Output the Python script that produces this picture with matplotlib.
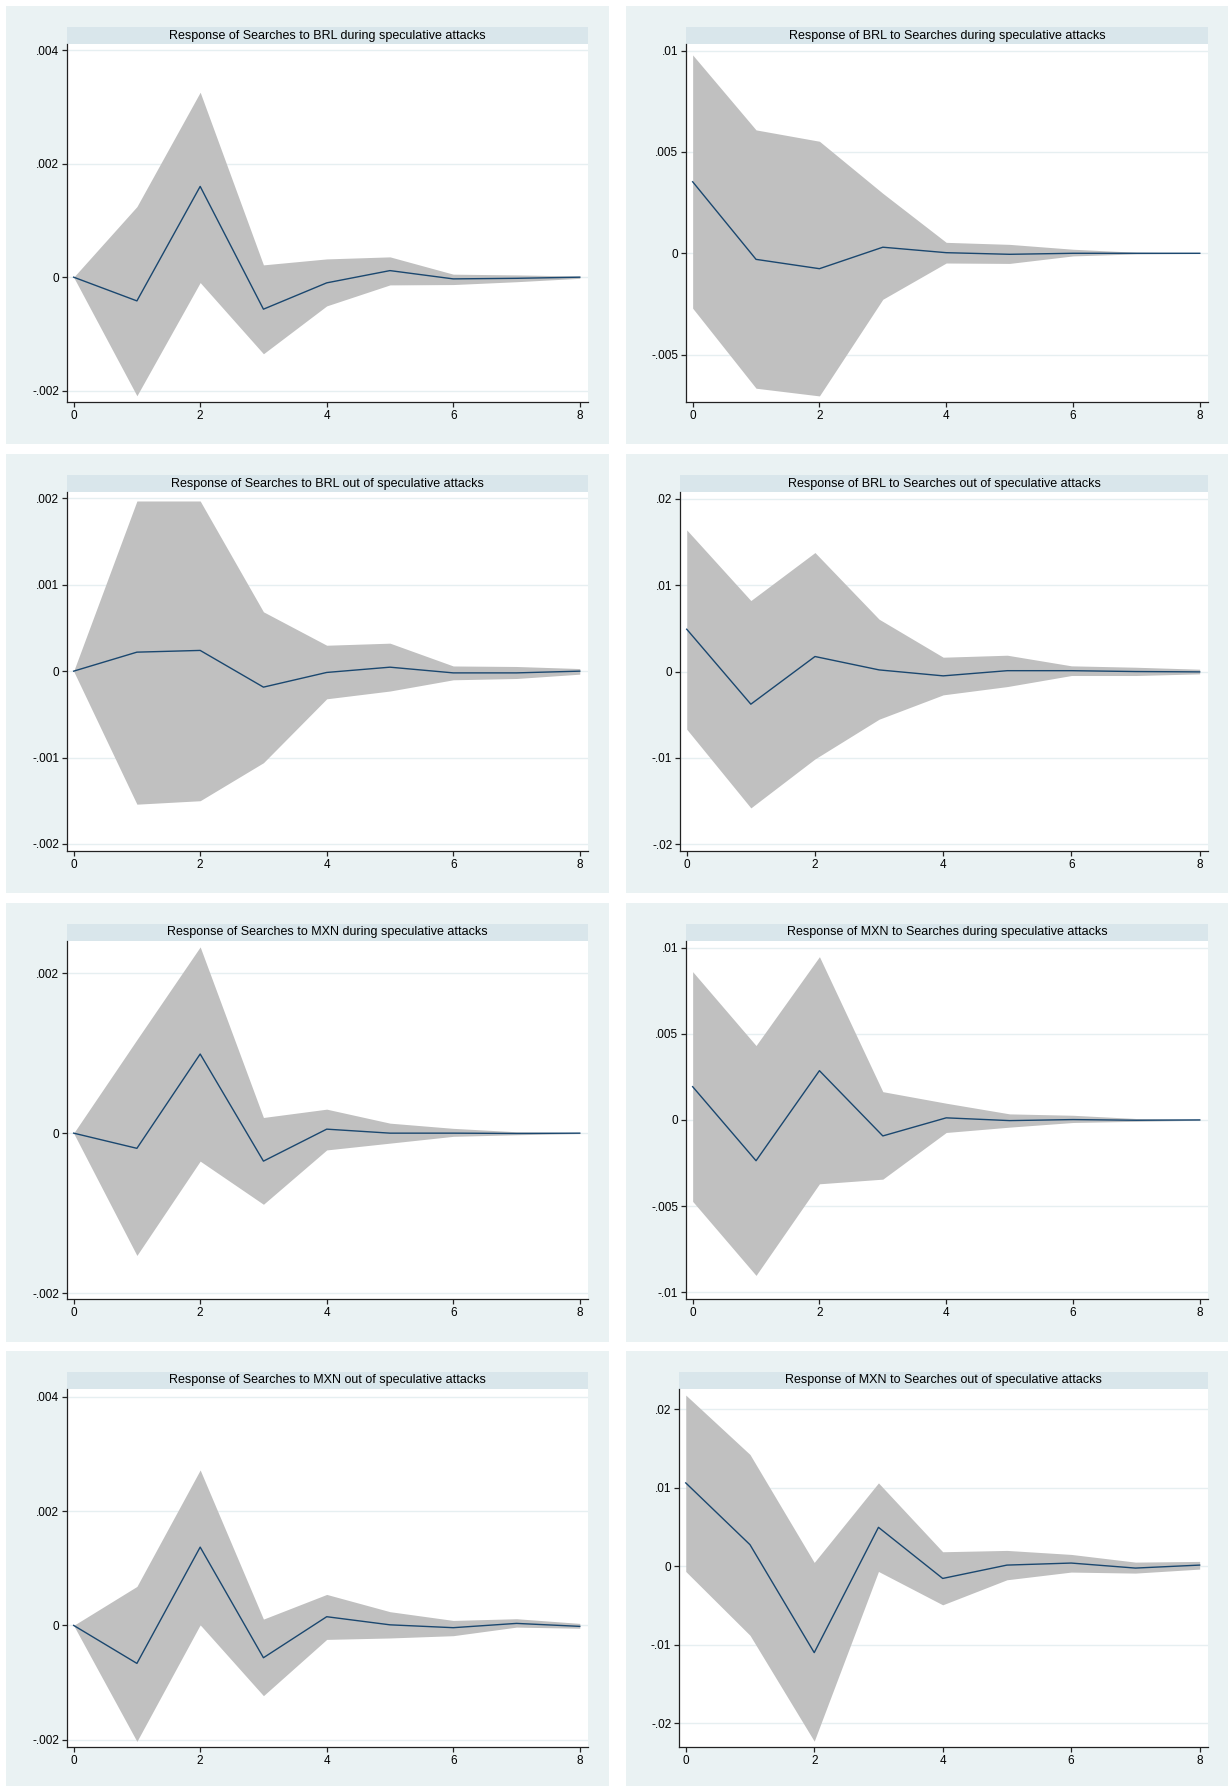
"""
Impulse responses, Searches <-> BRL / MXN, in and out of speculative attacks.
Eight panels in a 4x2 grid, Stata s2color look: shaded CI band, navy IRF line.
"""

import matplotlib

matplotlib.use("Agg")
import matplotlib.pyplot as plt
from matplotlib.patches import Rectangle
from matplotlib.ticker import FuncFormatter

plt.rcParams.update({"font.family": ["Liberation Sans", "DejaVu Sans"]})

W, H = 1228, 1786
BG = "#eaf2f3"
STRIP = "#d9e6eb"
GRIDC = "#e6eff1"
BAND = "#c0c0c0"
NAVY = "#1a476f"

steps = [0, 1, 2, 3, 4, 5, 6, 7, 8]

# Searches -> BRL, during attacks
sb_in_irf = [0, -0.000418, 0.0016, -0.000564, -0.0001, 0.000116, -0.00003, -0.00002, 0]
sb_in_lo = [0, -0.00209, -0.000095, -0.00135, -0.000506, -0.000136, -0.00013, -0.00008, -0.00002]
sb_in_hi = [0, 0.001244, 0.00326, 0.000217, 0.000322, 0.000358, 0.000053, 0.00004, 0.00002]

# BRL -> Searches, during attacks
bs_in_irf = [0.00353, -0.0003, -0.00076, 0.0003, 0.00003, -0.00005, 0, 0, 0]
bs_in_lo = [-0.00271, -0.00666, -0.00704, -0.00227, -0.00048, -0.0005, -0.00013, -0.00003, -0.00001]
bs_in_hi = [0.00979, 0.00609, 0.00553, 0.00296, 0.00054, 0.00044, 0.0002, 0.00005, 0.00002]

# Searches -> BRL, out of attacks
sb_out_irf = [0, 0.00022, 0.00024, -0.000185, -0.000015, 0.000046, -0.00002, -0.00002, 0]
sb_out_lo = [0, -0.00154, -0.0015, -0.00106, -0.00032, -0.00023, -0.0001, -0.000085, -0.000035]
sb_out_hi = [0, 0.00197, 0.00197, 0.000687, 0.0003, 0.000324, 0.00006, 0.000054, 0.00003]

# BRL -> Searches, out of attacks
bs_out_irf = [0.0049, -0.00378, 0.00174, 0.00019, -0.0005, 0.0001, 0.0001, 0, -0.00004]
bs_out_lo = [-0.00668, -0.01579, -0.01012, -0.00552, -0.0027, -0.00174, -0.00046, -0.00046, -0.00027]
bs_out_hi = [0.0164, 0.00822, 0.01378, 0.00606, 0.00166, 0.00189, 0.00066, 0.0005, 0.00027]

# Searches -> MXN, during attacks
sm_in_irf = [0, -0.00019, 0.00099, -0.00035, 0.00005, 0, 0, -0.000004, 0]
sm_in_lo = [0, -0.00153, -0.00035, -0.00089, -0.00021, -0.000125, -0.00004, -0.00002, -0.000005]
sm_in_hi = [0, 0.00117, 0.00233, 0.000196, 0.0003, 0.000125, 0.00006, 0.000017, 0.000005]

# MXN -> Searches, during attacks
ms_in_irf = [0.00193, -0.00237, 0.00286, -0.00093, 0.00012, -0.00004, 0.00002, -0.00002, 0]
ms_in_lo = [-0.00473, -0.00903, -0.00371, -0.00344, -0.00073, -0.00042, -0.00015, -0.00008, -0.00002]
ms_in_hi = [0.00861, 0.00432, 0.00948, 0.00164, 0.00097, 0.00035, 0.00027, 0.00008, 0.00002]

# Searches -> MXN, out of attacks
sm_out_irf = [0, -0.000665, 0.00137, -0.000566, 0.000152, 0.00001, -0.00004, 0.000035, -0.000017]
sm_out_lo = [0, -0.00203, 0.00001, -0.00123, -0.000245, -0.00022, -0.00018, -0.00003, -0.00005]
sm_out_hi = [0, 0.000682, 0.00272, 0.00011, 0.000542, 0.00024, 0.000087, 0.000117, 0.000035]

# MXN -> Searches, out of attacks
ms_out_irf = [0.01064, 0.00277, -0.01098, 0.00498, -0.00153, 0.00017, 0.00043, -0.00021, 0.00017]
ms_out_lo = [-0.00064, -0.00877, -0.02226, -0.00064, -0.00489, -0.0017, -0.00072, -0.00085, -0.00034]
ms_out_hi = [0.02183, 0.01426, 0.00051, 0.01064, 0.00187, 0.00204, 0.00153, 0.00055, 0.00064]

titles = [
    "Response of Searches to BRL during speculative attacks",
    "Response of BRL to Searches during speculative attacks",
    "Response of Searches to BRL out of speculative attacks",
    "Response of BRL to Searches out of speculative attacks",
    "Response of Searches to MXN during speculative attacks",
    "Response of MXN to Searches during speculative attacks",
    "Response of Searches to MXN out of speculative attacks",
    "Response of MXN to Searches out of speculative attacks",
]
series = [
    (sb_in_irf, sb_in_lo, sb_in_hi), (bs_in_irf, bs_in_lo, bs_in_hi),
    (sb_out_irf, sb_out_lo, sb_out_hi), (bs_out_irf, bs_out_lo, bs_out_hi),
    (sm_in_irf, sm_in_lo, sm_in_hi), (ms_in_irf, ms_in_lo, ms_in_hi),
    (sm_out_irf, sm_out_lo, sm_out_hi), (ms_out_irf, ms_out_lo, ms_out_hi),
]
yticks = [
    [-0.002, 0, 0.002, 0.004], [-0.005, 0, 0.005, 0.01],
    [-0.002, -0.001, 0, 0.001, 0.002], [-0.02, -0.01, 0, 0.01, 0.02],
    [-0.002, 0, 0.002], [-0.01, -0.005, 0, 0.005, 0.01],
    [-0.002, 0, 0.002, 0.004], [-0.02, -0.01, 0, 0.01, 0.02],
]
ylims = [
    (-0.0022, 0.00411), (-0.00734, 0.01033),
    (-0.002082, 0.002074), (-0.02078, 0.02079),
    (-0.002075, 0.002404), (-0.0104, 0.01039),
    (-0.002128, 0.004137), (-0.0230, 0.0226),
]

# pixel layout (full-size reference)
bg_cols = [(6, 609), (626, 1228)]
bg_rows = [(6, 444), (454, 893), (903, 1342), (1351, 1786)]
ax_rows = [(44, 402), (492, 851), (941, 1299), (1389, 1747)]
ax_left = [67, 686, 67, 680, 67, 686, 67, 679]
ax_right = [588, 1208]
STRIP_H = 17


def frac(l, t, r, b):
    return [l / W, 1 - b / H, (r - l) / W, (b - t) / H]


def stata_fmt(v, _pos):
    if abs(v) < 1e-12:
        return "0"
    s = f"{v:g}"
    return s.replace("0.", ".", 1)


fig = plt.figure(figsize=(W / 100, H / 100), dpi=100, facecolor="white")

for (t, b) in bg_rows:
    for (l, r) in bg_cols:
        fig.add_artist(Rectangle((l / W, 1 - b / H), (r - l) / W, (b - t) / H,
                                 transform=fig.transFigure, facecolor=BG,
                                 edgecolor="none", zorder=0))

for i in range(8):
    row, col = divmod(i, 2)
    top, bot = ax_rows[row]
    left, right = ax_left[i], ax_right[col]

    strip = fig.add_axes(frac(left, top - STRIP_H, right, top))
    strip.set_facecolor(STRIP)
    strip.set_xticks([])
    strip.set_yticks([])
    for sp in strip.spines.values():
        sp.set_visible(False)
    strip.text(0.5, 0.5, titles[i], ha="center", va="center", fontsize=9,
               transform=strip.transAxes)

    ax = fig.add_axes(frac(left, top, right, bot))
    ax.set_facecolor("white")
    irf, lo, hi = series[i]
    ax.fill_between(steps, lo, hi, color=BAND, linewidth=0, zorder=2)
    ax.plot(steps, irf, color=NAVY, lw=1.0, zorder=3)
    ax.set_xlim(-0.105, 8.13)
    ax.set_ylim(*ylims[i])
    ax.set_xticks([0, 2, 4, 6, 8])
    ax.set_yticks(yticks[i])
    ax.yaxis.set_major_formatter(FuncFormatter(stata_fmt))
    ax.grid(axis="y", color=GRIDC, lw=1.0)
    ax.set_axisbelow(True)
    for side in ("top", "right"):
        ax.spines[side].set_visible(False)
    for side in ("left", "bottom"):
        ax.spines[side].set_color("#222222")
        ax.spines[side].set_linewidth(0.9)
    ax.tick_params(length=3.5, width=0.9, color="#222222", labelsize=8.5,
                   pad=2, labelcolor="black")

fig.savefig("out.png", dpi=100, facecolor="white")
